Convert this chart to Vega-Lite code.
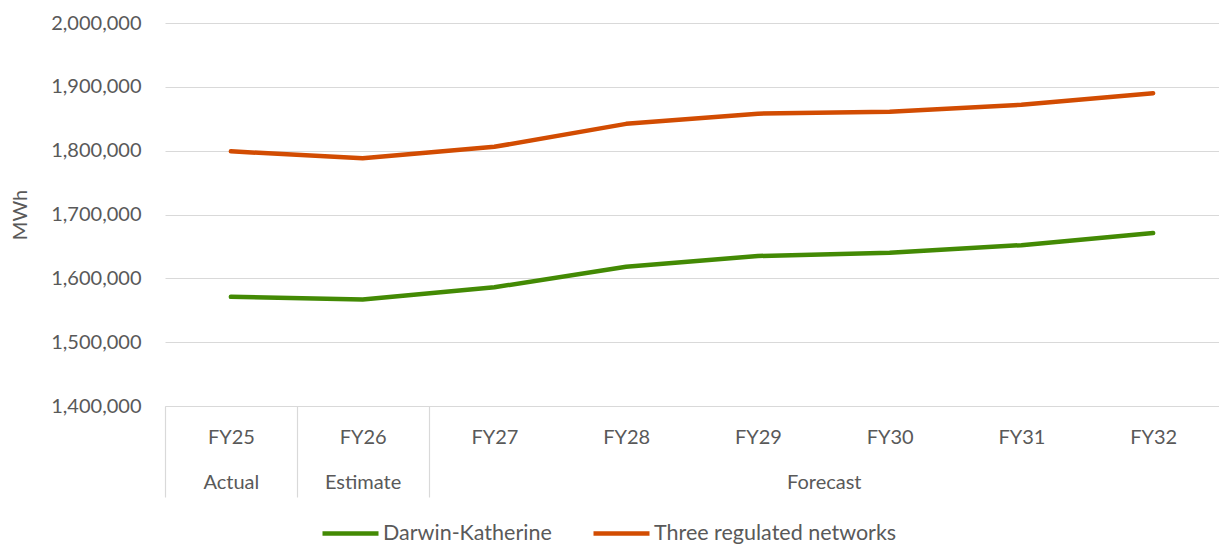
{
  "$schema": "https://vega.github.io/schema/vega-lite/v6.json",
  "width": 1054,
  "height": 383,
  "autosize": {"type": "none"},
  "padding": {"left": 165, "top": 23, "right": 0, "bottom": 140},
  "config": {
    "font": "Lato",
    "view": {"stroke": null},
    "axis": {
      "labelColor": "#595959",
      "titleColor": "#595959",
      "labelFontSize": 20,
      "titleFontSize": 20,
      "titleFontWeight": "normal",
      "labelFont": "Lato",
      "titleFont": "Lato"
    },
    "legend": {"labelFont": "Lato"}
  },
  "datasets": {
    "energy": [
      {"year": "FY25", "phase": "Actual", "network": "Darwin-Katherine", "mwh": 1571000},
      {"year": "FY26", "phase": "Estimate", "network": "Darwin-Katherine", "mwh": 1567000},
      {"year": "FY27", "phase": "Forecast", "network": "Darwin-Katherine", "mwh": 1586000},
      {"year": "FY28", "phase": "Forecast", "network": "Darwin-Katherine", "mwh": 1618000},
      {"year": "FY29", "phase": "Forecast", "network": "Darwin-Katherine", "mwh": 1635000},
      {"year": "FY30", "phase": "Forecast", "network": "Darwin-Katherine", "mwh": 1640000},
      {"year": "FY31", "phase": "Forecast", "network": "Darwin-Katherine", "mwh": 1652000},
      {"year": "FY32", "phase": "Forecast", "network": "Darwin-Katherine", "mwh": 1671000},
      {"year": "FY25", "phase": "Actual", "network": "Three regulated networks", "mwh": 1799000},
      {"year": "FY26", "phase": "Estimate", "network": "Three regulated networks", "mwh": 1788000},
      {"year": "FY27", "phase": "Forecast", "network": "Three regulated networks", "mwh": 1806000},
      {"year": "FY28", "phase": "Forecast", "network": "Three regulated networks", "mwh": 1842000},
      {"year": "FY29", "phase": "Forecast", "network": "Three regulated networks", "mwh": 1858000},
      {"year": "FY30", "phase": "Forecast", "network": "Three regulated networks", "mwh": 1861000},
      {"year": "FY31", "phase": "Forecast", "network": "Three regulated networks", "mwh": 1872000},
      {"year": "FY32", "phase": "Forecast", "network": "Three regulated networks", "mwh": 1890000}
    ],
    "phases": [
      {"phase": "Actual", "from": 0, "to": 1, "mid": 0.5},
      {"phase": "Estimate", "from": 1, "to": 2, "mid": 1.5},
      {"phase": "Forecast", "from": 2, "to": 8, "mid": 5}
    ]
  },
  "layer": [
    {
      "data": {"name": "energy"},
      "mark": {"type": "line", "strokeWidth": 4.5, "strokeCap": "round", "strokeJoin": "round"},
      "encoding": {
        "x": {
          "field": "year",
          "type": "ordinal",
          "scale": {"type": "point", "padding": 0.5},
          "axis": {
            "orient": "bottom",
            "title": null,
            "labelAngle": 0,
            "ticks": false,
            "domain": false,
            "grid": false,
            "labelPadding": 21
          }
        },
        "y": {
          "field": "mwh",
          "type": "quantitative",
          "scale": {"domain": [1400000, 2000000], "nice": false, "zero": false},
          "axis": {
            "values": [1400000, 1500000, 1600000, 1700000, 1800000, 1900000, 2000000],
            "format": ",d",
            "title": "MWh",
            "grid": true,
            "gridColor": "#d9d9d9",
            "gridWidth": 1.2,
            "ticks": false,
            "domain": false,
            "labelPadding": 24,
            "titlePadding": 20
          }
        },
        "color": {
          "field": "network",
          "type": "nominal",
          "scale": {
            "domain": ["Darwin-Katherine", "Three regulated networks"],
            "range": ["#438a04", "#d24c02"]
          },
          "legend": {
            "orient": "none",
            "legendX": 155,
            "legendY": 480,
            "direction": "horizontal",
            "title": null,
            "symbolType": "stroke",
            "symbolStrokeWidth": 4.5,
            "symbolStrokeCap": "round",
            "symbolSize": 3136,
            "labelFontSize": 21.5,
            "labelColor": "#595959",
            "labelOffset": 2,
            "labelLimit": 400,
            "columnPadding": 32
          }
        }
      }
    },
    {
      "data": {"name": "phases"},
      "mark": {"type": "rule", "opacity": 0},
      "encoding": {
        "x": {
          "field": "from",
          "type": "quantitative",
          "scale": {"domain": [0, 8], "nice": false, "zero": false},
          "axis": {
            "orient": "bottom",
            "title": null,
            "values": [0, 1, 2],
            "labels": false,
            "grid": false,
            "tickSize": 91,
            "tickColor": "#d9d9d9",
            "tickWidth": 1.2,
            "domainColor": "#d9d9d9",
            "domainWidth": 1.2
          }
        }
      }
    },
    {
      "data": {"name": "phases"},
      "mark": {"type": "rule", "opacity": 0},
      "encoding": {
        "x": {
          "field": "mid",
          "type": "quantitative",
          "scale": {"domain": [0, 8], "nice": false, "zero": false},
          "axis": {
            "orient": "bottom",
            "title": null,
            "values": [0.5, 1.5, 5],
            "labelExpr": "datum.value < 1 ? 'Actual' : datum.value < 2 ? 'Estimate' : 'Forecast'",
            "labelAngle": 0,
            "ticks": false,
            "domain": false,
            "grid": false,
            "labelPadding": 66
          }
        }
      }
    }
  ],
  "resolve": {"scale": {"x": "independent"}, "axis": {"x": "independent"}}
}
